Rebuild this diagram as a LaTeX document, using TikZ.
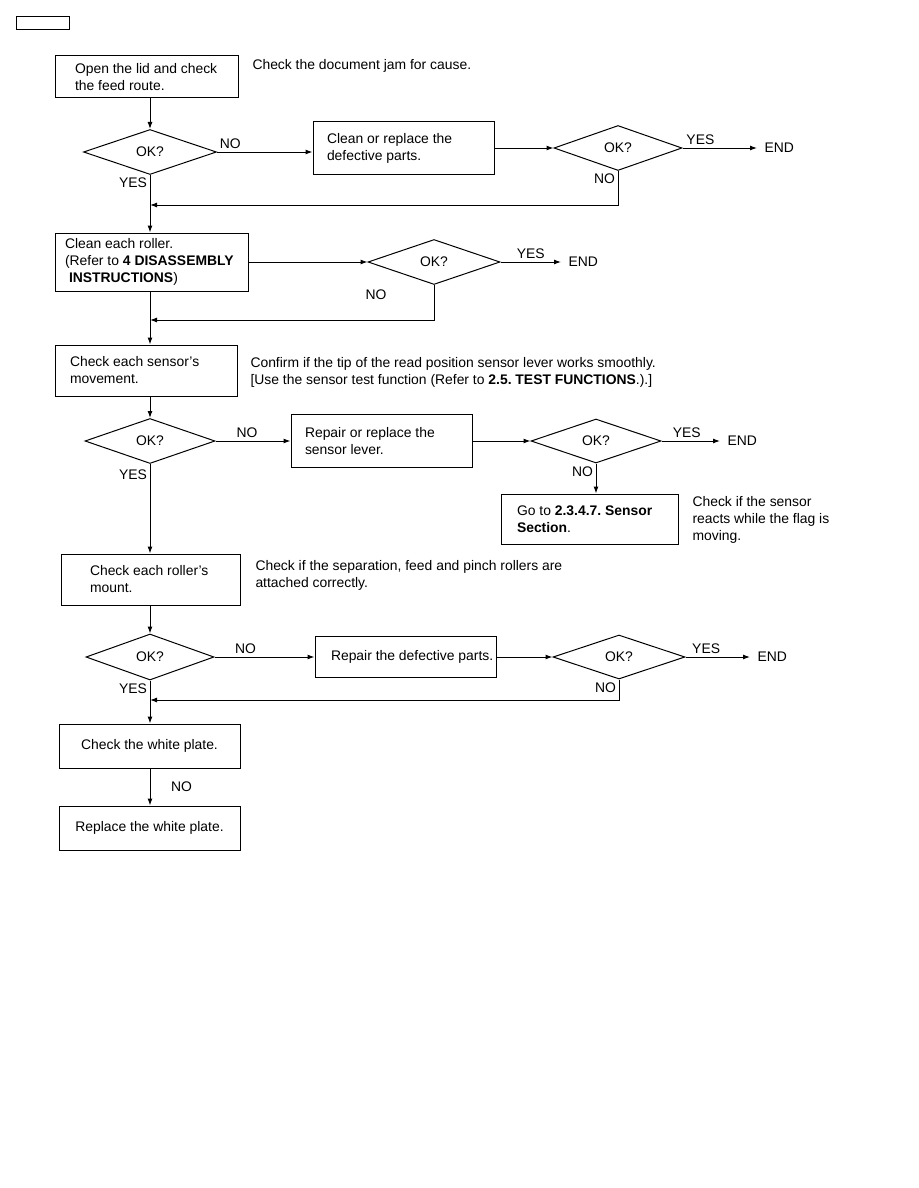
\documentclass[tikz,border=0pt]{standalone}
\usepackage{fontspec}
\setmainfont{Liberation Sans}
\usetikzlibrary{arrows.meta,positioning,shapes.geometric}

\begin{document}
\frenchspacing
\begin{tikzpicture}[x=1pt,y=-1pt,
    font=\fontsize{13.9}{17}\selectfont,
    line width=1pt,
    box/.style={draw,align=flush left,inner ysep=0pt},
    okbox/.style={draw,diamond,inner sep=0pt},
    arr/.style={-{Latex[length=7pt,width=5pt]}},
    lbl/.style={inner sep=2.5pt},
    endnode/.style={anchor=west,inner xsep=7pt,inner ysep=0pt},
    note/.style={anchor=west,align=left,inner sep=0pt}]
    \useasboundingbox (0,0) rectangle (918,1188);
    \node[draw,minimum width=53pt,minimum height=13pt,inner sep=0pt] (pagebox) at (42.5,23.5) {};

    % open the lid
    \node[box,text width=143pt,inner xsep=20pt,minimum height=42pt] (open) at (146.5,77) {\mbox{Open the lid and check}\\the feed route.};
    \node[note] (note1) at (252,66) {Check the document jam for cause.};
    \node[okbox,minimum width=133pt,minimum height=45pt] (ok1) at (150,152) {OK?};
    \node[box,text width=153pt,inner xsep=14pt,minimum height=52pt] (clean) at (403.5,148) {Clean or replace the\\defective parts.};
    \node[okbox,minimum width=128pt,minimum height=45pt] (ok2) at (618,148) {OK?};
    \node[endnode] (end1) at (757,148) {END};
    \coordinate (back1) at (150,205);
    \draw[arr] (open.south -| ok1) -- (ok1.north);
    \draw[arr] (ok1.east) -- node[lbl,above,pos=0.14] (no1) {NO} (ok1.east -| clean.west);
    \draw[arr] (clean.east) -- (ok2.west);
    \draw[arr] (ok2.east) -- node[lbl,above,pos=0.24] (yes2) {YES} (end1.west);
    \draw[arr] (ok2.south) |- node[lbl,below left,at start] (no2) {NO} (back1);

    % rollers
    \node[box,text width=173pt,inner xsep=10pt,minimum height=58pt] (roller) at (151.5,262) {Clean each roller.\\\mbox{(Refer to \textbf{4 DISASSEMBLY}}\\\hspace*{4pt}\textbf{INSTRUCTIONS})};
    \node[okbox,minimum width=132pt,minimum height=45pt] (ok3) at (434,262) {OK?};
    \node[endnode] (end2) at (561,262) {END};
    \node[lbl] (no3) at (376,295) {NO};
    \coordinate (back2) at (150,320);
    \draw[arr] (ok1.south) -- node[lbl,below left,at start] (yes1) {YES} (roller.north -| ok1);
    \draw[arr] (roller.east) -- (ok3.west);
    \draw[arr] (ok3.east) -- node[lbl,above,pos=0.5] (yes3) {YES} (end2.west);
    \draw[arr] (ok3.south) |- (back2);

    % sensors
    \node[box,text width=152pt,inner xsep=15pt,minimum height=51pt] (sensor) at (146,370.5) {Check each sensor's\\movement.};
    \node[note] (note2) at (250,372) {Confirm if the tip of the read position sensor lever works smoothly.\\{}[Use the sensor test function (Refer to \textbf{2.5. TEST FUNCTIONS}.).]};
    \node[okbox,minimum width=130pt,minimum height=45pt] (ok4) at (150,441) {OK?};
    \node[box,text width=153pt,inner xsep=14pt,minimum height=53pt] (repair) at (381.5,441) {Repair or replace the\\sensor lever.};
    \node[okbox,minimum width=130pt,minimum height=44pt] (ok5) at (596,441) {OK?};
    \node[endnode] (end3) at (720,441) {END};
    \node[box,text width=145pt,inner xsep=16pt,minimum height=50pt] (goto) at (589.5,519) {Go to \textbf{2.3.4.7. Sensor}\\\textbf{Section}.};
    \node[note] (note3) at (692,520) {Check if the sensor\\reacts while the flag is\\moving.};
    \draw[arr] (roller.south -| ok1) -- (sensor.north -| ok1);
    \draw[arr] (sensor.south -| ok4) -- (ok4.north);
    \draw[arr] (ok4.east) -- node[lbl,above,pos=0.42] (no4) {NO} (repair.west);
    \draw[arr] (repair.east) -- (ok5.west);
    \draw[arr] (ok5.east) -- node[lbl,above,pos=0.43] (yes5) {YES} (end3.west);
    \draw[arr] (ok5.south) -- node[lbl,below left,at start] (no5) {NO} (goto.north -| ok5);

    % roller mount
    \node[box,text width=121pt,inner xsep=29pt,minimum height=51pt] (mount) at (150.5,579.5) {Check each roller's\\mount.};
    \node[note] (note4) at (255,575) {Check if the separation, feed and pinch rollers are\\attached correctly.};
    \node[okbox,minimum width=128pt,minimum height=46pt] (ok6) at (150,657) {OK?};
    \node[box,text width=149pt,inner xsep=16pt,minimum height=41pt] (fix) at (405.5,657) {\mbox{Repair the defective parts.}};
    \node[okbox,minimum width=132pt,minimum height=44pt] (ok7) at (619,657) {OK?};
    \node[endnode] (end4) at (750,657) {END};
    \coordinate (back3) at (150,700);
    \draw[arr] (ok4.south) -- node[lbl,below left,at start,yshift=-3pt] (yes4) {YES} (mount.north -| ok4);
    \draw[arr] (mount.south -| ok6) -- (ok6.north);
    \draw[arr] (ok6.east) -- node[lbl,above,pos=0.31] (no6) {NO} (fix.west);
    \draw[arr] (fix.east) -- (ok7.west);
    \draw[arr] (ok7.east) -- node[lbl,above,pos=0.32] (yes7) {YES} (end4.west);
    \draw[arr] (ok7.south) |- node[lbl,below left,at start] (no7) {NO} (back3);

    % white plate
    \node[box,align=center,minimum width=181pt,minimum height=44pt] (white) at (149.5,746) {Check the white plate.};
    \node[box,align=center,minimum width=181pt,minimum height=44pt] (replace) at (149.5,828) {Replace the white plate.};
    \draw[arr] (ok6.south) -- node[lbl,below left,at start] (yes6) {YES} (white.north -| ok6);
    \draw[arr] (white.south -| ok6) -- node[lbl,right=18pt] (no8) {NO} (replace.north -| ok6);
\end{tikzpicture}
\end{document}
